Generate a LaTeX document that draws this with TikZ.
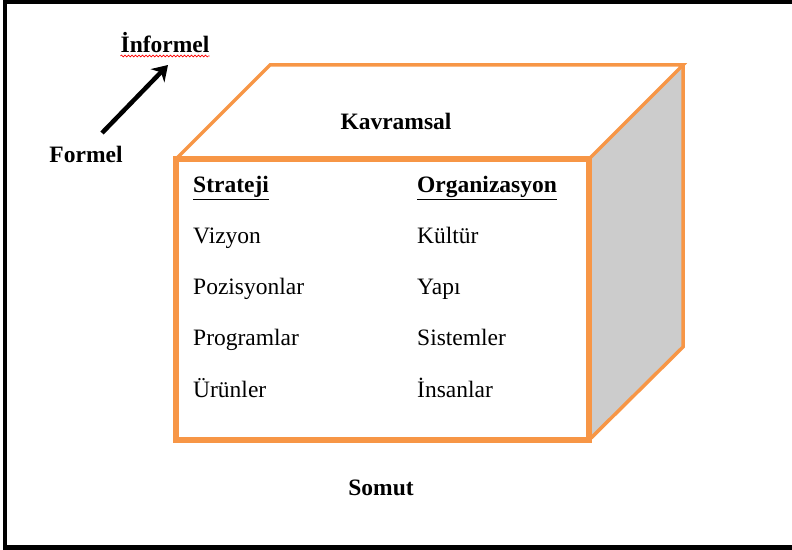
\documentclass[tikz,border=0pt]{standalone}
\usepackage{fontspec}
\setmainfont{Liberation Serif}
\usetikzlibrary{arrows.meta,decorations.pathmorphing}

\definecolor{boxorange}{HTML}{F79646}
\definecolor{sidegray}{HTML}{CCCCCC}

\tikzset{
  lbl/.style={font=\fontsize{23.5bp}{28bp}\selectfont, inner sep=0pt, anchor=base},
  lblb/.style={lbl, font=\fontsize{23.5bp}{28bp}\selectfont\bfseries},
  edge/.style={draw=boxorange, line width=3.5bp, line join=miter},
}

\begin{document}
\begin{tikzpicture}[x=1bp,y=1bp,>=stealth]
  \useasboundingbox (0,0) rectangle (792,550);

%%%%%%%%%%%%%%%%%%%%%%%%%%%%%%%%%%%%%%%%%%
  % Frame
  \draw[line width=4.5bp] (800,548.5) -- (5,548.5) -- (5,2.5) -- (800,2.5);

  % Local scope: the box
  \begin{scope}
    % Side face
    \fill[sidegray] (589,391) -- (683,485) -- (683,203) -- (589,110) -- cycle;
    % Top face and back edges
    \draw[edge] (176,391) -- (270,485) -- (683,485) -- (589,391);
    \draw[edge] (683,485) -- (683,203) -- (589,110);
    % Front face
    \draw[draw=boxorange, line width=5.5bp] (176,110) rectangle (589,391);
  \end{scope}

  % Labels round the box
  \node[lblb] (kavramsal) at (396,420) {Kavramsal};
  \node[lblb] (somut) at (381,54) {Somut};
  \node[lblb] (formel) at (86,387) {Formel};
  \node[lblb] (informel) at (165,497) {İnformel};

  % Spelling mark
  \draw[red, line width=0.6bp, decorate,
        decoration={snake, amplitude=0.9bp, segment length=3.5bp}]
    ([yshift=-3bp]informel.base west) -- ([yshift=-3bp]informel.base east);

  % Arrow
  \coordinate (arrtail) at (102,417);
  \coordinate (arrhead) at (168,485);
  \draw[-{Stealth[length=15bp,width=19bp]}, line width=4.5bp] (arrtail) -- (arrhead);

  % Columns
  \node[lblb, anchor=base west] (strateji) at (193,357) {\underline{Strateji}};
  \node[lbl, anchor=base west] (vizyon) at (193,306) {Vizyon};
  \node[lbl, anchor=base west] (pozisyonlar) at (193,255) {Pozisyonlar};
  \node[lbl, anchor=base west] (programlar) at (193,204) {Programlar};
  \node[lbl, anchor=base west] (urunler) at (193,152.5) {Ürünler};

  \node[lblb, anchor=base west] (organizasyon) at (417,357) {\underline{Organizasyon}};
  \node[lbl, anchor=base west] (kultur) at (417,306) {Kültür};
  \node[lbl, anchor=base west] (yapi) at (417,255) {Yapı};
  \node[lbl, anchor=base west] (sistemler) at (417,204) {Sistemler};
  \node[lbl, anchor=base west] (insanlar) at (417,152.5) {İnsanlar};

\end{tikzpicture}
\end{document}
